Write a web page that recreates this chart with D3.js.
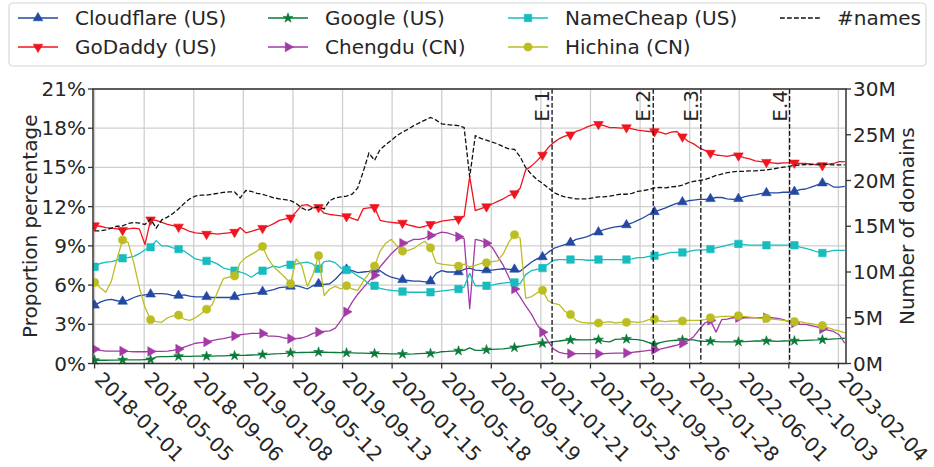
<!DOCTYPE html>
<html><head><meta charset="utf-8">
<script src="https://cdn.jsdelivr.net/npm/d3@7"></script>
<style>body{margin:0;background:#fff} text{font-family:"DejaVu Sans",sans-serif;fill:#262626}</style>
</head><body><svg id="c" width="934" height="467"></svg>
<script>
// ---------------- data ----------------
const tickLabels = ["2018-01-01","2018-05-05","2018-09-06","2019-01-08","2019-05-12","2019-09-13","2020-01-15","2020-05-18","2020-09-19","2021-01-21","2021-05-25","2021-09-26","2022-01-28","2022-06-01","2022-10-03","2023-02-04"];
const leftTicks = [0,3,6,9,12,15,18,21];
const rightTicks = [0,5,10,15,20,25,30];
const eventLabels = ["E.1","E.2","E.3","E.4"];
const eventDates = ["2021-02-18","2021-10-29","2022-02-25","2022-10-05"];
const startDate = "2018-01-01";   // first sample
const stepDays = 14;              // samples every two weeks
const markEvery = 5;

const cloudflare = [4.45,4.7,4.85,4.9,4.8,4.75,4.85,5.05,5.2,5.25,
5.3,5.35,5.35,5.3,5.2,5.2,5.25,5.15,5.1,5.1,
5.1,5.05,5.05,5.05,5.05,5.1,5.25,5.3,5.35,5.4,
5.5,5.55,5.65,5.8,5.85,5.9,5.95,5.85,5.7,5.95,
6.1,6.05,6.1,6.45,6.9,7.2,7.1,6.95,7.0,7.05,
7.2,7.1,6.8,6.6,6.5,6.4,6.35,6.3,6.3,6.25,
6.3,6.9,7.1,7.0,7.0,7.0,7.2,7.3,7.15,7.1,
7.15,7.15,7.2,7.25,7.2,7.2,7.05,7.4,7.75,8.0,
8.15,8.5,8.8,8.95,9.1,9.25,9.5,9.6,9.7,9.9,
10.05,10.25,10.35,10.45,10.5,10.6,10.75,10.95,11.15,11.4,
11.6,11.75,11.9,12.1,12.25,12.35,12.45,12.5,12.55,12.55,
12.6,12.7,12.7,12.6,12.55,12.6,12.75,12.85,12.9,13.0,
13.05,13.05,13.05,13.1,13.1,13.15,13.3,13.35,13.5,13.65,
13.8,13.75,13.5,13.5,13.55];
const godaddy = [10.55,10.5,10.4,10.35,10.3,10.2,10.3,10.35,10.3,9.1,
11.0,10.95,10.8,10.65,10.55,10.45,10.3,10.1,10.0,9.95,
9.9,9.95,9.9,9.95,10.0,10.05,10.4,10.0,10.1,10.25,
10.35,10.5,10.7,10.95,11.05,11.15,11.6,12.1,12.15,11.9,
11.95,11.5,11.4,11.35,11.3,11.25,11.1,10.95,11.85,11.9,
11.95,10.95,10.85,10.8,10.75,10.75,10.6,10.5,10.4,10.5,
10.65,10.75,10.9,10.95,11.0,11.05,11.25,14.3,11.7,11.85,
12.0,12.2,12.4,12.6,12.85,13.0,13.4,14.8,15.1,15.5,
15.95,16.5,16.9,17.2,17.4,17.5,17.75,17.9,18.1,18.25,
18.3,18.2,18.05,18.05,18.0,18.05,17.95,17.85,17.8,17.75,
17.75,17.7,17.55,17.7,17.75,17.35,17.0,16.8,16.5,16.3,
16.1,15.95,15.9,15.85,15.95,15.9,15.75,15.65,15.5,15.45,
15.4,15.35,15.3,15.35,15.35,15.35,15.3,15.3,15.25,15.2,
15.15,15.25,15.3,15.45,15.45];
const google = [0.25,0.25,0.25,0.26,0.26,0.27,0.27,0.28,0.28,0.29,
0.3,0.5,0.52,0.53,0.54,0.55,0.55,0.55,0.56,0.56,
0.56,0.57,0.58,0.59,0.6,0.6,0.62,0.63,0.65,0.66,
0.68,0.7,0.73,0.75,0.78,0.82,0.83,0.84,0.85,0.86,
0.87,0.86,0.85,0.84,0.83,0.82,0.81,0.8,0.79,0.78,
0.77,0.76,0.75,0.74,0.73,0.72,0.72,0.73,0.75,0.77,
0.78,0.82,0.9,0.92,0.95,0.97,1.0,1.2,1.0,1.0,
1.05,1.08,1.1,1.12,1.18,1.22,1.3,1.38,1.45,1.5,
1.55,1.6,1.68,1.72,1.78,1.8,1.82,1.8,1.8,1.82,
1.82,1.7,1.65,1.85,1.87,1.87,1.85,1.82,1.75,1.6,
1.45,1.6,1.7,1.75,1.78,1.8,1.82,1.8,1.72,1.7,
1.7,1.68,1.65,1.65,1.66,1.66,1.68,1.7,1.72,1.72,
1.73,1.72,1.7,1.72,1.73,1.74,1.75,1.77,1.79,1.8,
1.82,1.85,1.88,1.9,1.93];
const chengdu = [1.1,1.0,0.95,0.95,0.95,0.95,0.92,0.9,0.9,0.9,
0.92,0.92,0.92,0.95,1.0,1.1,1.25,1.4,1.55,1.6,
1.65,1.75,1.85,1.9,2.0,2.1,2.2,2.25,2.3,2.3,
2.3,2.1,2.1,2.05,1.95,1.9,1.9,1.95,2.1,2.3,
2.4,2.45,2.5,2.7,3.3,3.95,4.7,5.3,5.8,6.3,
6.75,7.4,7.9,8.4,8.8,9.2,9.3,9.5,9.5,9.6,
9.8,9.9,10.05,10.0,9.85,9.7,9.55,4.2,9.5,9.4,
9.2,8.9,8.2,7.5,6.6,5.7,5.1,4.4,3.8,3.0,
2.4,1.7,1.1,0.85,0.75,0.75,0.75,0.75,0.75,0.75,
0.75,0.75,0.78,0.8,0.8,0.8,0.85,0.9,0.95,1.0,
1.05,1.1,1.2,1.3,1.4,1.55,1.75,2.05,2.6,3.1,
3.3,2.4,3.35,3.4,3.5,3.5,3.5,3.5,3.5,3.5,
3.5,3.5,3.45,3.35,3.2,3.1,3.0,3.0,2.9,2.8,
2.65,2.55,2.45,2.2,1.55];
const namecheap = [7.4,7.65,7.75,7.8,7.9,8.05,8.1,8.2,8.4,8.7,
8.9,9.4,9.0,9.0,8.85,8.75,8.6,8.3,8.0,7.9,
7.85,7.8,7.6,7.3,7.2,7.1,7.0,6.85,6.6,6.9,
7.1,7.3,7.45,7.35,7.5,7.55,7.6,7.7,7.75,7.6,
7.25,7.8,7.85,7.7,7.3,7.15,7.0,6.7,6.45,6.1,
5.95,5.75,5.65,5.6,5.55,5.5,5.45,5.45,5.45,5.45,
5.45,5.5,5.55,5.6,5.65,5.7,5.85,6.9,5.95,5.95,
5.95,6.0,6.1,6.15,6.2,6.2,6.1,6.8,7.1,7.2,
7.3,7.6,7.9,7.95,7.95,7.95,7.95,7.95,7.9,7.9,
7.95,7.95,7.95,7.95,7.95,7.95,8.0,8.1,8.1,8.2,
8.25,8.3,8.4,8.5,8.5,8.5,8.55,8.65,8.7,8.7,
8.75,8.85,8.95,9.05,9.15,9.15,9.1,9.05,9.05,9.05,
9.05,9.05,9.05,9.05,9.05,9.05,8.9,8.8,8.7,8.55,
8.45,8.55,8.65,8.65,8.65];
const hichina = [6.2,5.8,5.45,6.3,8.0,9.45,9.25,7.7,5.8,4.3,
3.35,3.2,3.15,3.5,3.65,3.7,3.4,3.3,3.5,3.8,
4.15,4.5,5.5,6.5,6.6,6.7,7.7,8.1,8.35,8.6,
8.95,8.0,7.4,7.0,6.6,6.1,8.0,7.5,5.9,6.8,
8.25,5.2,5.7,5.9,5.7,5.95,5.7,5.6,6.3,6.9,
7.45,8.6,9.2,9.5,9.0,8.6,8.65,8.8,9.1,9.35,
8.85,7.7,7.6,7.55,7.5,7.45,7.6,7.4,7.5,7.65,
7.7,7.8,7.85,8.4,9.3,9.85,9.6,5.0,5.1,5.4,
5.6,4.8,4.6,4.5,4.0,3.75,3.3,3.15,3.1,3.1,
3.1,3.15,3.2,3.1,3.15,3.15,3.2,3.15,3.2,3.35,
3.4,3.25,3.2,3.25,3.25,3.25,3.3,3.3,3.3,3.35,
3.5,3.55,3.6,3.6,3.6,3.65,3.6,3.55,3.5,3.45,
3.45,3.4,3.35,3.3,3.25,3.2,3.2,3.1,3.05,2.95,
2.9,2.75,2.6,2.5,2.35];
// number of domains, millions (right axis)
const numNames = [14.5,14.5,14.6,14.8,15.0,15.05,15.3,15.4,15.35,15.2,
15.8,14.8,15.7,16.0,16.4,16.9,17.5,18.0,18.3,18.4,
18.4,18.5,18.6,18.7,18.75,18.75,18.1,18.9,18.8,18.6,
18.5,18.3,18.1,18.0,17.9,17.8,17.5,17.0,16.7,17.0,
17.1,16.9,17.8,18.1,18.2,18.3,18.5,19.2,21.0,23.0,
22.2,23.4,23.9,24.4,24.9,25.3,25.6,26.0,26.3,26.6,
26.9,26.6,26.2,26.1,26.05,26.0,25.8,20.4,24.9,24.6,
24.4,24.2,24.0,23.7,23.45,23.4,22.6,21.4,20.7,20.1,
19.7,19.2,18.7,18.4,18.2,18.1,18.0,18.0,18.0,18.1,
18.2,18.2,18.3,18.4,18.5,18.5,18.6,18.8,18.9,19.0,
19.2,19.25,19.2,19.3,19.35,19.5,19.75,19.9,20.0,20.1,
20.3,20.55,20.7,20.85,20.95,21.0,21.0,21.05,21.05,21.1,
21.15,21.25,21.35,21.45,21.55,21.65,21.7,21.75,21.75,21.8,
21.8,21.75,21.7,21.7,21.7];

const series = [
  {name:"Cloudflare (US)", values:cloudflare, color:"#2349a3", marker:"up"},
  {name:"GoDaddy (US)", values:godaddy, color:"#f0141e", marker:"down"},
  {name:"Google (US)", values:google, color:"#0a7a38", marker:"star"},
  {name:"Chengdu (CN)", values:chengdu, color:"#a33aa6", marker:"right"},
  {name:"NameCheap (US)", values:namecheap, color:"#17bcbf", marker:"square"},
  {name:"Hichina (CN)", values:hichina, color:"#bcbd22", marker:"circle"}
];

// ---------------- layout ----------------
const svg = d3.select("#c");
const L = 93, R = 846, T = 89, B = 363.5;
const parse = d3.utcParse("%Y-%m-%d");
const t0 = parse(startDate);
const dates = cloudflare.map((_, i) => d3.utcDay.offset(t0, i * stepDays));

const x = d3.scaleUtc()
  .domain([d3.utcDay.offset(dates[0], -4), d3.utcDay.offset(dates[dates.length-1], 3)])
  .range([L, R]);
const y = d3.scaleLinear().domain([0, 21]).range([B, T]);
const y2 = d3.scaleLinear().domain([0, 30]).range([B, T]);

const tickDates = tickLabels.map(parse);

// grid
const grid = svg.append("g").attr("stroke", "#cfcfcf").attr("stroke-width", 1.3);
tickDates.forEach(d => grid.append("line").attr("x1", x(d)).attr("x2", x(d)).attr("y1", T).attr("y2", B));
leftTicks.forEach(v => grid.append("line").attr("x1", L).attr("x2", R).attr("y1", y(v)).attr("y2", y(v)));

// clip
svg.append("clipPath").attr("id", "clip").append("rect")
  .attr("x", L).attr("y", T - 6).attr("width", R - L).attr("height", B - T + 12);
const plot = svg.append("g").attr("clip-path", "url(#clip)");

function symbolPath(kind) {
  switch (kind) {
    case "up": return {d: d3.symbol(d3.symbolTriangle, 40)(), rot: 0};
    case "down": return {d: d3.symbol(d3.symbolTriangle, 40)(), rot: 180};
    case "right": return {d: d3.symbol(d3.symbolTriangle, 40)(), rot: 90};
    case "star": return {d: d3.symbol(d3.symbolStar, 30)(), rot: 0};
    case "square": return {d: d3.symbol(d3.symbolSquare, 56)(), rot: 0};
    case "circle": return {d: d3.symbol(d3.symbolCircle, 52)(), rot: 0};
  }
}

const line = d3.line().x((d, i) => x(dates[i])).y(d => y(d));
series.forEach(s => {
  plot.append("path").datum(s.values)
    .attr("fill", "none").attr("stroke", s.color).attr("stroke-width", 1.3)
    .attr("stroke-linejoin", "round").attr("d", line);
  const sp = symbolPath(s.marker);
  plot.selectAll(null).data(s.values.map((v, i) => [i, v]).filter(p => p[0] % markEvery === 0))
    .enter().append("path").attr("d", sp.d)
    .attr("transform", p => `translate(${x(dates[p[0]])},${y(p[1])}) rotate(${sp.rot})`)
    .attr("fill", s.color).attr("stroke", s.color).attr("stroke-width", 0.6);
});

// #names dashed (right axis)
const line2 = d3.line().x((d, i) => x(dates[i])).y(d => y2(d));
plot.append("path").datum(numNames)
  .attr("fill", "none").attr("stroke", "#111").attr("stroke-width", 1.3)
  .attr("stroke-dasharray", "4.8,2.2").attr("d", line2);

// events
eventDates.forEach((ds, k) => {
  const ex = x(parse(ds));
  svg.append("line").attr("x1", ex).attr("x2", ex).attr("y1", T).attr("y2", B)
    .attr("stroke", "#111").attr("stroke-width", 1.3).attr("stroke-dasharray", "4.8,2.2");
  svg.append("text").attr("transform", `translate(${ex - 3},${T + 1}) rotate(-90)`)
    .attr("text-anchor", "end").attr("font-size", 20).text(eventLabels[k]);
});

// frame
svg.append("rect").attr("x", L).attr("y", T).attr("width", R - L).attr("height", B - T)
  .attr("fill", "none").attr("stroke", "#333").attr("stroke-width", 1.5);

// left axis
const ax = svg.append("g");
leftTicks.forEach(v => {
  ax.append("line").attr("x1", L - 5).attr("x2", L).attr("y1", y(v)).attr("y2", y(v)).attr("stroke", "#333").attr("stroke-width", 1.3);
  ax.append("text").attr("x", L - 7).attr("y", y(v) + 7).attr("text-anchor", "end").attr("font-size", 20).text(v + "%");
});
// right axis
rightTicks.forEach(v => {
  ax.append("line").attr("x1", R).attr("x2", R + 5).attr("y1", y2(v)).attr("y2", y2(v)).attr("stroke", "#333").attr("stroke-width", 1.3);
  ax.append("text").attr("x", R + 7).attr("y", y2(v) + 7).attr("text-anchor", "start").attr("font-size", 20).text(v + "M");
});
// bottom axis
tickDates.forEach((d, k) => {
  const tx = x(d);
  ax.append("line").attr("x1", tx).attr("x2", tx).attr("y1", B).attr("y2", B + 5).attr("stroke", "#333").attr("stroke-width", 1.3);
  ax.append("text").attr("transform", `translate(${tx + 9},${B + 7}) rotate(45)`)
    .attr("dy", "0.72em").attr("text-anchor", "start").attr("font-size", 20).text(tickLabels[k]);
});

// axis titles
svg.append("text").attr("transform", `translate(37,${(T + B) / 2}) rotate(-90)`)
  .attr("text-anchor", "middle").attr("font-size", 20).text("Proportion percentage");
svg.append("text").attr("transform", `translate(914,${(T + B) / 2}) rotate(-90)`)
  .attr("text-anchor", "middle").attr("font-size", 20).text("Number of domains");

// legend
const lg = svg.append("g");
lg.append("rect").attr("x", 9).attr("y", 3).attr("width", 917).attr("height", 63).attr("rx", 4)
  .attr("fill", "#fff").attr("stroke", "#d6d6d6").attr("stroke-width", 1.2);
const colX = [18, 268, 508, 780];
const rowY = [18, 47];
const legendItems = [
  {s: series[0], c: 0, r: 0}, {s: series[1], c: 0, r: 1},
  {s: series[2], c: 1, r: 0}, {s: series[3], c: 1, r: 1},
  {s: series[4], c: 2, r: 0}, {s: series[5], c: 2, r: 1},
  {s: null, c: 3, r: 0}
];
legendItems.forEach(it => {
  const hx = colX[it.c], hy = rowY[it.r];
  if (it.s) {
    lg.append("line").attr("x1", hx).attr("x2", hx + 40).attr("y1", hy).attr("y2", hy)
      .attr("stroke", it.s.color).attr("stroke-width", 1.3);
    const sp = symbolPath(it.s.marker);
    lg.append("path").attr("d", sp.d).attr("transform", `translate(${hx + 20},${hy}) rotate(${sp.rot})`)
      .attr("fill", it.s.color).attr("stroke", it.s.color).attr("stroke-width", 0.6);
  } else {
    lg.append("line").attr("x1", hx).attr("x2", hx + 40).attr("y1", hy).attr("y2", hy)
      .attr("stroke", "#111").attr("stroke-width", 1.3).attr("stroke-dasharray", "4.8,2.2");
  }
  lg.append("text").attr("x", hx + 57).attr("y", hy + 7).attr("font-size", 20)
    .text(it.s ? it.s.name : "#names");
});
</script></body></html>
